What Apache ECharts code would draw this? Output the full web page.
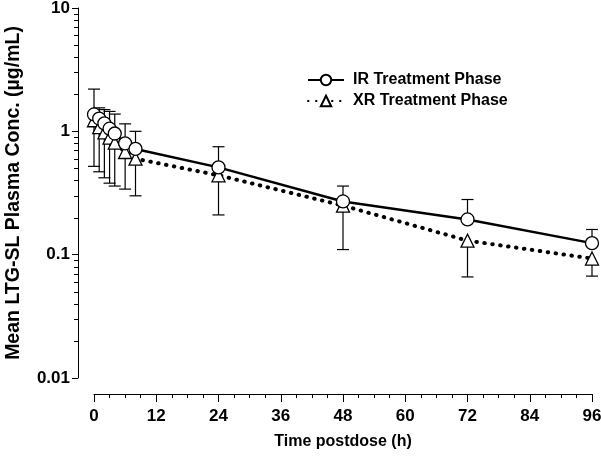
<!DOCTYPE html>
<html>
<head>
<meta charset="utf-8">
<script src="https://cdn.jsdelivr.net/npm/echarts@6/dist/echarts.min.js"></script>
<style>html,body{margin:0;padding:0;background:#fff}#c{width:601px;height:457px}</style>
</head>
<body>
<div id="c"></div>
<script>
const times = [0, 1, 2, 3, 4, 6, 8, 24, 48, 72, 96];
const irMean = [1.37, 1.27, 1.16, 1.05, 0.96, 0.80, 0.72, 0.51, 0.27, 0.193, 0.124];
const irUpper = [2.2, 1.55, 1.5, 1.45, 1.38, 1.15, 1.0, 0.75, 0.36, 0.28, 0.16];
const xrMean = [1.23, 1.08, 0.98, 0.89, 0.81, 0.68, 0.60, 0.44, 0.25, 0.13, 0.093];
const xrLower = [0.52, 0.47, 0.42, 0.38, 0.36, 0.34, 0.30, 0.21, 0.11, 0.066, 0.067];
const xTicks = [0, 12, 24, 36, 48, 60, 72, 84, 96];
const yTicks = [0.01, 0.1, 1, 10];
const yMinor = [0.02,0.03,0.04,0.05,0.06,0.07,0.08,0.09,0.2,0.3,0.4,0.5,0.6,0.7,0.8,0.9,2,3,4,5,6,7,8,9];
const seriesNames = ['IR Treatment Phase', 'XR Treatment Phase'];

const FONT = '"Liberation Sans", Arial, sans-serif';
const Y_OFFSET = 16;
const chart = echarts.init(document.getElementById('c'), null, {renderer: 'canvas'});

const errData = [];
times.forEach((t, i) => {
  errData.push([t, irMean[i], irUpper[i]]);
  errData.push([t, xrMean[i], xrLower[i]]);
});

function renderErr(params, api) {
  const t = api.value(0);
  const p0 = api.coord([t, api.value(1)]);
  const p1 = api.coord([t, api.value(2)]);
  const hw = 6;
  return {
    type: 'group',
    children: [
      {type: 'line', shape: {x1: p0[0], y1: p0[1], x2: p1[0], y2: p1[1]}, style: {stroke: '#000', lineWidth: 1.2}},
      {type: 'line', shape: {x1: p1[0] - hw, y1: p1[1], x2: p1[0] + hw, y2: p1[1]}, style: {stroke: '#000', lineWidth: 1.2}}
    ]
  };
}

function renderMinor(params, api) {
  const p = api.coord([api.value(0), api.value(1)]);
  const x = Math.round(p[0] - Y_OFFSET);
  const y = Math.round(p[1]);
  return {type: 'rect', z2: 50, shape: {x: x - 4, y: y, width: 4, height: 1}, style: {fill: '#000'}};
}

const option = {
  animation: false,
  backgroundColor: '#fff',
  grid: {left: 94, right: 9, top: 8, bottom: 79, containLabel: false, outerBoundsMode: 'none'},
  legend: {
    orient: 'vertical', left: 307, top: 72, padding: 0, itemGap: 5, itemWidth: 36, itemHeight: 13,
    data: seriesNames,
    textStyle: {fontFamily: FONT, fontWeight: 'bold', fontSize: 16, color: '#000', padding: [0, 0, 0, 4]}
  },
  xAxis: {
    type: 'value', min: 0, max: 96, interval: 12, offset: 16,
    name: 'Time postdose (h)', nameLocation: 'middle', nameGap: 40,
    nameTextStyle: {fontFamily: FONT, fontWeight: 'bold', fontSize: 16, color: '#000'},
    axisLine: {show: true, onZero: false, lineStyle: {color: '#000', width: 1}},
    axisTick: {show: true, length: 8, lineStyle: {color: '#000'}},
    minorTick: {show: true, splitNumber: 4, length: 4, lineStyle: {color: '#000'}},
    axisLabel: {fontFamily: FONT, fontWeight: 'bold', fontSize: 17, color: '#000', margin: 14},
    splitLine: {show: false}
  },
  yAxis: {
    type: 'log', logBase: 10, min: 0.01, max: 10, offset: Y_OFFSET,
    name: 'Mean LTG-SL Plasma Conc. (µg/mL)', nameLocation: 'middle', nameGap: 54,
    nameTextStyle: {fontFamily: FONT, fontWeight: 'bold', fontSize: 19.5, color: '#000'},
    axisLine: {show: true, onZero: false, lineStyle: {color: '#000', width: 1}},
    axisTick: {show: true, length: 6, lineStyle: {color: '#000'}},
    axisLabel: {fontFamily: FONT, fontWeight: 'bold', fontSize: 17, color: '#000', margin: 8,
      formatter: v => String(+v.toPrecision(3))},
    splitLine: {show: false}
  },
  series: [{
    type: 'custom', name: 'minorTicks', renderItem: renderMinor, data: yMinor.map(v => [0, v]),
    encode: {x: 0, y: 1}, silent: true, clip: false, z: 10
  }, {
    type: 'custom', name: 'err', renderItem: renderErr, data: errData, z: 1,
    encode: {x: 0, y: [1, 2]}, silent: true
  }, {
    name: seriesNames[0], type: 'line', z: 3,
    data: times.map((t, i) => [t, irMean[i]]),
    symbol: 'circle', symbolSize: 13,
    lineStyle: {color: '#000', width: 2.5},
    itemStyle: {color: '#fff', borderColor: '#000', borderWidth: 1.3}
  }, {
    name: seriesNames[1], type: 'line', z: 2,
    data: times.map((t, i) => [t, xrMean[i]]),
    symbol: 'triangle', symbolSize: 13,
    lineStyle: {color: '#000', width: 4, type: [0.5, 7.5], cap: 'round'},
    itemStyle: {color: '#fff', borderColor: '#000', borderWidth: 1.3}
  }]
};
chart.setOption(option);
</script>
</body>
</html>
